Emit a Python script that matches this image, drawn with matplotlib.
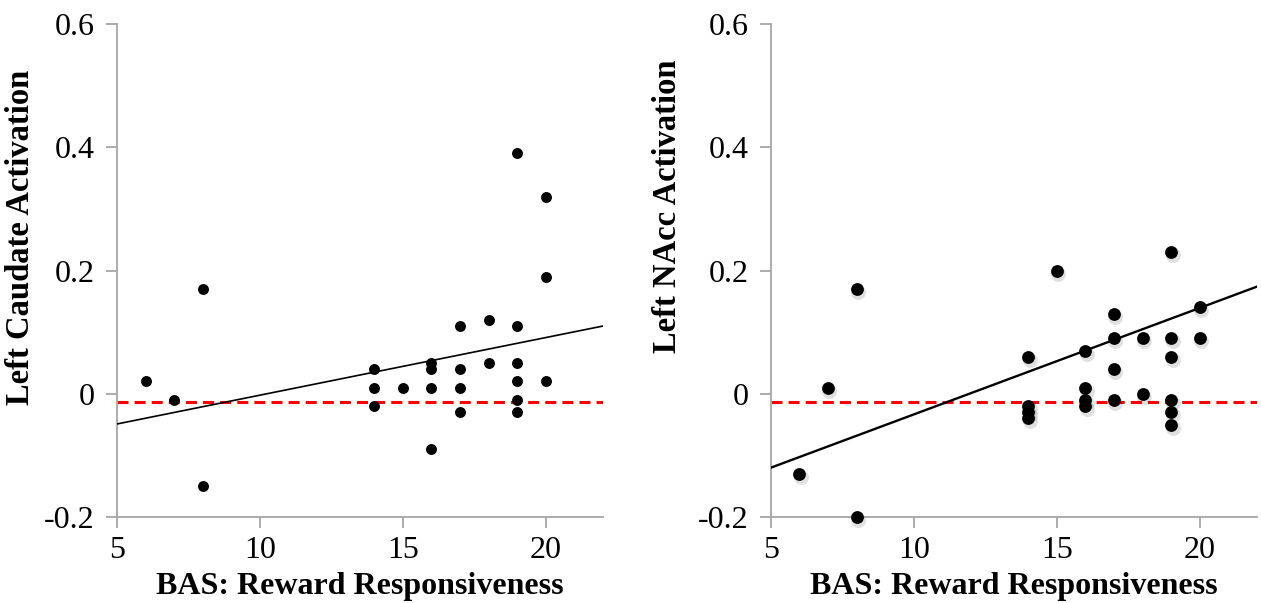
import numpy as np
import matplotlib
matplotlib.use("Agg")
import matplotlib.pyplot as plt
import matplotlib.transforms as mtransforms

plt.rcParams['font.family'] = ['Liberation Serif', 'DejaVu Serif']

# ---- data ----
caudate_x = [6, 7, 8, 8, 14, 14, 14, 15, 16, 16, 16, 16, 17, 17, 17, 17,
             18, 18, 19, 19, 19, 19, 19, 19, 20, 20, 20]
caudate_y = [0.02, -0.01, 0.17, -0.15, 0.04, 0.01, -0.02, 0.01, 0.05, 0.04, 0.01, -0.09,
             0.11, 0.04, 0.01, -0.03, 0.12, 0.05, 0.39, 0.11, 0.05, 0.02, -0.01, -0.03,
             0.32, 0.19, 0.02]

nacc_x = [6, 7, 8, 8, 14, 14, 14, 14, 15, 16, 16, 16, 16, 17, 17, 17, 17,
          18, 18, 19, 19, 19, 19, 19, 19, 20, 20]
nacc_y = [-0.13, 0.01, 0.17, -0.20, 0.06, -0.02, -0.03, -0.04, 0.20, 0.07, 0.01, -0.01, -0.02,
          0.13, 0.09, 0.04, -0.01, 0.09, 0.00, 0.23, 0.09, 0.06, -0.01, -0.03, -0.05,
          0.14, 0.09]

# trend lines as shown in the chart (intercept at x=0, slope)
caudate_trend = (-0.0958, 0.00935)
nacc_trend = (-0.2065, 0.01729)

baseline = -0.014
x_ticks = [5, 10, 15, 20]
y_ticks = [-0.2, 0, 0.2, 0.4, 0.6]
y_tick_labels = ['-0.2', '0', '0.2', '0.4', '0.6']
x_label = 'BAS: Reward Responsiveness'
y_labels = ['Left Caudate Activation', 'Left NAcc Activation']

W, H = 1261, 603
fig = plt.figure(figsize=(W / 100, H / 100), dpi=100)

panels = [
    (caudate_x, caudate_y, caudate_trend, y_labels[0], [117, 24, 603, 517], (-0.167, 0.568), False),
    (nacc_x, nacc_y, nacc_trend, y_labels[1], [770.7, 24, 1257, 517], (-0.18, 0.631), True),
]

gray = '#a6a6a6'
for xs, ys, trend, ylab, (x0, y0, x1, y1), lab_xy, shadow in panels:
    ax = fig.add_axes([x0 / W, 1 - y1 / H, (x1 - x0) / W, (y1 - y0) / H])
    ax.set_xlim(5, 22)
    ax.set_ylim(-0.2, 0.6)
    for s in ['top', 'right']:
        ax.spines[s].set_visible(False)
    for s in ['left', 'bottom']:
        ax.spines[s].set_color(gray)
        ax.spines[s].set_linewidth(1.3)
    ax.set_xticks(x_ticks)
    ax.set_yticks(y_ticks)
    ax.set_yticklabels(y_tick_labels)
    ax.tick_params(axis='both', direction='out', color=gray, width=1.3, length=8,
                   labelsize=23, pad=8)
    ax.tick_params(axis='x', pad=6)

    # red dashed reference line
    ax.axhline(baseline, color='#ff0000', lw=2.2, dashes=(3.6, 2.0), zorder=2)

    # trend line
    b, m = trend
    ax.axline((0, b), slope=m, color='black', lw=1.2 if not shadow else 1.7, zorder=3)

    if shadow:
        off = mtransforms.offset_copy(ax.transData, fig=fig, x=1.5, y=-3, units='dots')
        ax.scatter(xs, ys, s=115, color='#000000', alpha=0.12, lw=0, transform=off,
                   zorder=3, clip_on=False)
        ax.scatter(xs, ys, s=85, color='black', lw=0, zorder=4, clip_on=False)
    else:
        ax.scatter(xs, ys, s=62, color='black', lw=0, zorder=4, clip_on=False)

    ax.set_xlabel(x_label, fontsize=23, fontweight='bold', labelpad=5)
    ax.set_ylabel(ylab, fontsize=23.5, fontweight='bold')
    ax.yaxis.set_label_coords(*lab_xy)

fig.savefig('out.png', dpi=100)
